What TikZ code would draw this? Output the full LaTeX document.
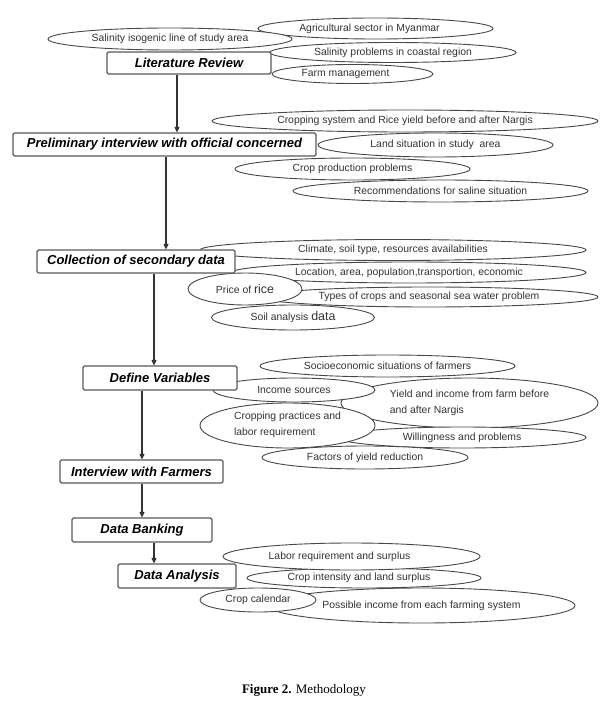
\documentclass[tikz,border=0pt]{standalone}
\usepackage{fontspec}
\setmainfont{Liberation Sans}
\newfontfamily\capfont{Liberation Serif}
\usetikzlibrary{shapes.geometric,arrows.meta,calc}
\begin{document}
\begin{tikzpicture}[x=1pt,y=-1pt,
  ell/.style={ellipse,draw=black!72,fill=white,line width=0.9pt,inner sep=0pt,text=black!80,font=\fontsize{10.4}{12}\selectfont},
  box/.style={rectangle,rounded corners=1.5pt,draw=black!65,fill=white,line width=1.2pt,inner sep=0pt,font=\fontsize{13}{15}\selectfont\bfseries\itshape},
  arr/.style={draw=black!80,line width=1.1pt,-{Triangle[length=5.5pt,width=5pt]}},
  bigw/.style={font=\fontsize{12.4}{14}\selectfont}]
\useasboundingbox (0,0) rectangle (606,708);
% literature review ellipses
\node[ell,minimum width=235pt,minimum height=21pt] (e2) at (375.5,28.5) {\hspace*{-12pt}Agricultural sector in Myanmar};
\node[ell,minimum width=244pt,minimum height=22pt] (e1) at (170,39) {Salinity isogenic line of study area};
\node[ell,minimum width=246pt,minimum height=20pt] (e3) at (393,52.5) {Salinity problems in coastal region};
\node[ell,minimum width=161pt,minimum height=19pt] (e4) at (352.5,74) {\hspace*{-14pt}Farm management};
% preliminary interview ellipses
\node[ell,minimum width=386pt,minimum height=22pt] (e5) at (405,121) {Cropping system and Rice yield before and after Nargis};
\node[ell,minimum width=235pt,minimum height=24pt] (e6) at (435.5,145) {Land situation in study\ \ area};
\node[ell,minimum width=235pt,minimum height=22pt] (e7) at (352.5,169) {Crop production problems};
\node[ell,minimum width=295pt,minimum height=22pt] (e8) at (440.5,191) {Recommendations for saline situation};
% secondary data ellipses
\node[ell,minimum width=386pt,minimum height=21pt] (e9) at (393,250) {Climate, soil type, resources availabilities};
\node[ell,minimum width=354pt,minimum height=21pt] (e10) at (409,272.5) {Location, area, population,transportion, economic};
\node[ell,minimum width=338pt,minimum height=20pt] (e12) at (429,297) {Types of crops and seasonal sea water problem};
\node[ell,minimum width=114pt,minimum height=32pt] (e11) at (245,289) {Price of {\fontsize{12.4}{14}\selectfont rice}};
\node[ell,minimum width=163pt,minimum height=25pt] (e13) at (293,317.5) {Soil analysis {\fontsize{12.4}{14}\selectfont data}};
% define variables ellipses
\node[ell,minimum width=255pt,minimum height=22pt] (e14) at (387.5,366) {Socioeconomic situations of farmers};
\node[ell,minimum width=257pt,minimum height=50pt] (e16) at (469.5,403) {\begin{tabular}{@{}l@{}}Yield and income from farm before\\[4pt] and after Nargis\end{tabular}};
\node[ell,minimum width=248pt,minimum height=21pt] (e18) at (462,437.5) {Willingness and problems};
\node[ell,minimum width=162pt,minimum height=24pt] (e15) at (294,390) {Income sources};
\node[ell,minimum width=175pt,minimum height=45pt] (e17) at (287.5,425.5) {\begin{tabular}{@{}l@{}}Cropping practices and\\[4pt] labor requirement\end{tabular}};
\node[ell,minimum width=206pt,minimum height=23pt] (e19) at (365,457.5) {Factors of yield reduction};
% data analysis ellipses
\node[ell,minimum width=307pt,minimum height=35pt] (e23) at (421.5,605.5) {Possible income from each farming system};
\node[ell,minimum width=234pt,minimum height=20pt] (e21) at (364,578) {\hspace*{-10pt}Crop intensity and land surplus};
\node[ell,minimum width=257pt,minimum height=27pt] (e20) at (351.5,556.5) {\hspace*{-24pt}Labor requirement and surplus};
\node[ell,minimum width=116pt,minimum height=24pt] (e22) at (258,600) {Crop calendar};
% boxes
\node[box,minimum width=164pt,minimum height=22pt] (lit) at (189,63) {Literature Review};
\node[box,minimum width=303pt,minimum height=23pt] (pre) at (164.5,144.5) {Preliminary interview with official concerned};
\node[box,minimum width=198pt,minimum height=23pt] (col) at (136,261.5) {Collection of secondary data};
\node[box,minimum width=154pt,minimum height=24pt] (def) at (160,378) {Define Variables};
\node[box,minimum width=163pt,minimum height=23pt] (int) at (141.5,471.5) {Interview with Farmers};
\node[box,minimum width=140pt,minimum height=24pt] (bank) at (142,530) {Data Banking};
\node[box,minimum width=118pt,minimum height=24pt] (ana) at (177,576) {Data Analysis};
% arrows
\coordinate (a1) at ($(lit.south)+(-12,0)$);
\coordinate (a2) at ($(pre.south)+(1.5,0)$);
\coordinate (a3) at ($(col.south)+(18,0)$);
\coordinate (a4) at ($(def.south)+(-18,0)$);
\coordinate (a5) at ($(int.south)+(0.5,0)$);
\coordinate (a6) at ($(bank.south)+(12,0)$);
\draw[arr] (a1) -- (a1 |- pre.north);
\draw[arr] (a2) -- (a2 |- col.north);
\draw[arr] (a3) -- (a3 |- def.north);
\draw[arr] (a4) -- (a4 |- int.north);
\draw[arr] (a5) -- (a5 |- bank.north);
\draw[arr] (a6) -- (a6 |- ana.north);
% caption
\node[font=\capfont\fontsize{13}{15}\selectfont] (cap) at (304,690) {\textbf{Figure 2.} Methodology};
\end{tikzpicture}
\end{document}
